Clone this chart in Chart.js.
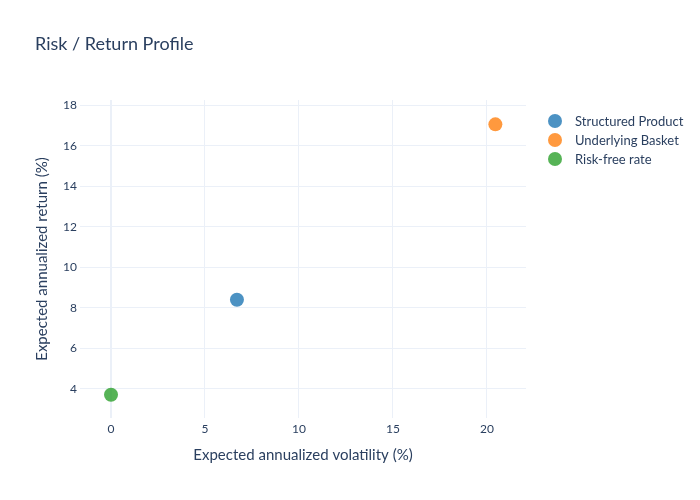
<!DOCTYPE html>
<html>
<head>
<meta charset="utf-8">
<script src="https://cdn.jsdelivr.net/npm/chart.js@4"></script>
<style>
  html, body { margin: 0; padding: 0; background: #fff; }
  #wrap { width: 700px; height: 500px; position: relative; }
</style>
</head>
<body>
<div id="wrap"><canvas id="chart" width="700" height="500"></canvas></div>
<script>
// data
const seriesNames = ["Structured Product", "Underlying Basket", "Risk-free rate"];
const volatility = [6.7, 20.45, 0];       // x, %
const expReturn = [8.4, 17.05, 3.72];     // y, %
const colours = ["rgba(31,119,180,0.8)", "rgba(255,127,14,0.8)", "rgba(44,160,44,0.8)"];
const xTicks = [0, 5, 10, 15, 20];
const yTicks = [4, 6, 8, 10, 12, 14, 16, 18];

const FONT = "Lato, 'Open Sans', sans-serif";
const TEXT = "#2a3f5f";
const GRID = "#EBF0F8";

Chart.defaults.font.family = FONT;
Chart.defaults.color = TEXT;

const datasets = seriesNames.map((name, i) => ({
    label: name,
    data: [{ x: volatility[i], y: expReturn[i] }],
    backgroundColor: colours[i],
    borderColor: colours[i],
    borderWidth: 0,
    pointRadius: 7,
    pointHoverRadius: 7
}));

// legend drawn on the canvas, plotly-like, right of the plot
const sideLegend = {
    id: "sideLegend",
    afterDraw(chart) {
        const ctx = chart.ctx;
        const area = chart.chartArea;
        ctx.save();
        ctx.font = "13px " + FONT;
        ctx.textBaseline = "middle";
        chart.data.datasets.forEach((ds, i) => {
            const y = 121 + i * 19;
            ctx.fillStyle = ds.backgroundColor;
            ctx.beginPath();
            ctx.arc(area.right + 29, y, 7, 0, Math.PI * 2);
            ctx.fill();
            ctx.fillStyle = TEXT;
            ctx.textAlign = "left";
            ctx.fillText(ds.label, area.right + 49, y + 0.5);
        });
        ctx.restore();
    }
};

new Chart(document.getElementById("chart"), {
    type: "scatter",
    data: { datasets },
    options: {
        responsive: false,
        animation: false,
        layout: { padding: { left: 35, right: 174, top: 0, bottom: 0 } },
        plugins: {
            legend: { display: false },
            tooltip: { enabled: false },
            title: {
                display: true,
                text: "Risk / Return Profile",
                align: "start",
                color: TEXT,
                font: { size: 18, weight: "normal", family: FONT },
                padding: { top: 33, bottom: 45.4 }
            }
        },
        scales: {
            x: {
                type: "linear",
                min: -1.65,
                max: 22.08,
                afterBuildTicks: s => { s.ticks = xTicks.map(v => ({ value: v })); },
                afterFit: s => { s.height = 82; },
                border: { display: false },
                grid: {
                    drawTicks: false,
                    color: GRID,
                    lineWidth: c => (c.tick && c.tick.value === 0 ? 2 : 1)
                },
                ticks: { padding: 4, color: TEXT, font: { size: 12 } },
                title: {
                    display: true,
                    text: "Expected annualized volatility (%)",
                    color: TEXT,
                    font: { size: 15 },
                    padding: { top: 0, bottom: 36 }
                }
            },
            y: {
                type: "linear",
                min: 2.57,
                max: 18.25,
                afterBuildTicks: s => { s.ticks = yTicks.map(v => ({ value: v })); },
                afterFit: s => { s.width = 45; },
                border: { display: false },
                grid: { drawTicks: false, color: GRID, lineWidth: 1 },
                ticks: { padding: 3, color: TEXT, font: { size: 12 } },
                title: {
                    display: true,
                    text: "Expected annualized return (%)",
                    color: TEXT,
                    font: { size: 15 },
                    padding: { top: -2, bottom: 0 }
                }
            }
        }
    },
    plugins: [sideLegend]
});
</script>
</body>
</html>
